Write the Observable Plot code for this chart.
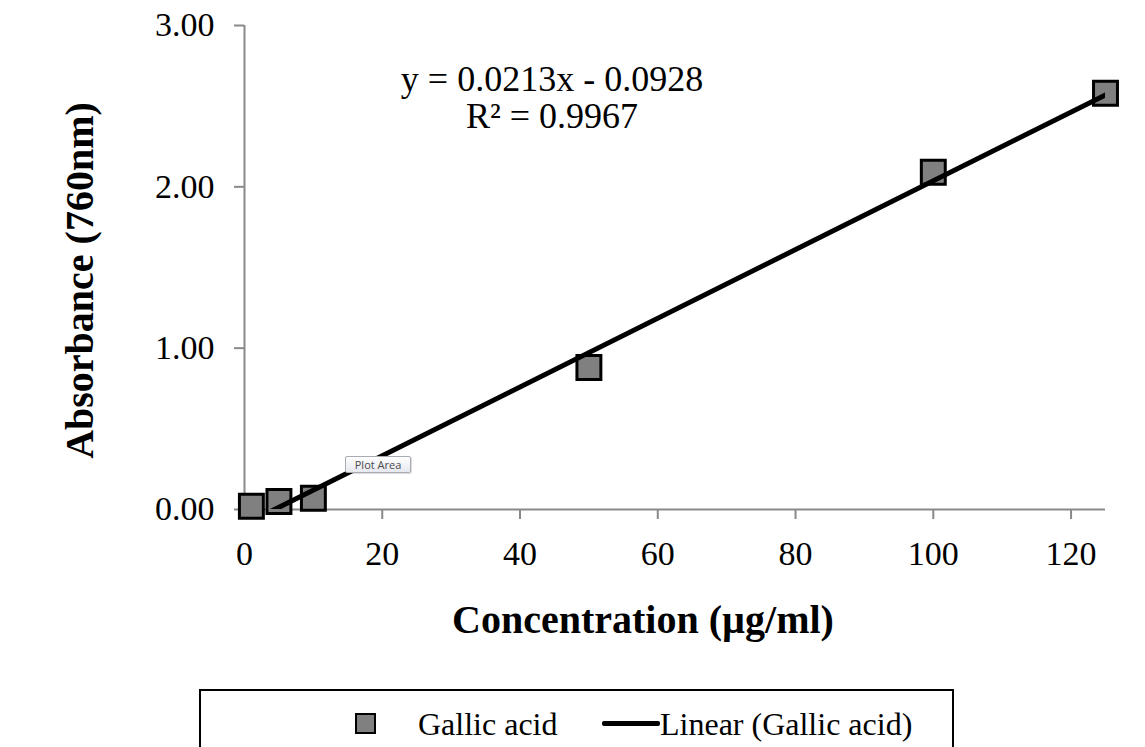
<!DOCTYPE html>
<html><head><meta charset="utf-8">
<script src="https://cdn.jsdelivr.net/npm/d3@7"></script>
<script src="https://cdn.jsdelivr.net/npm/@observablehq/plot@0.6"></script>
<style>
body{margin:0;background:#fff;width:1145px;height:747px;overflow:hidden;position:relative;font-family:"Liberation Serif","Times New Roman",serif}
#chart svg{display:block}
#legend{position:absolute;left:199px;top:689px;width:751px;height:80px;border:2px solid #000;box-sizing:content-box}
#legend .sw{position:absolute;left:154px;top:22px;width:17px;height:17px;background:#808080;border:2px solid #000}
#legend .t1{position:absolute;left:217px;top:13px;font-size:32px;line-height:40px;color:#000}
#legend .ln{position:absolute;left:401px;top:30px;width:58px;height:5px;background:#000;border-radius:2px}
#legend .t2{position:absolute;left:459px;top:13px;font-size:32px;line-height:40px;color:#000}
#tip{position:absolute;left:345px;top:456px;width:64px;height:15px;border:1px solid #a9abb3;border-radius:2px;background:linear-gradient(#ffffff,#e6e8ef);font:11px "Open Sans",sans-serif;color:#4a4a4a;text-align:center;line-height:15px;box-shadow:1px 1px 1px rgba(0,0,0,.15)}
</style></head><body>
<div id="chart"></div>
<div id="legend"><div class="sw"></div><div class="t1">Gallic acid</div><div class="ln"></div><div class="t2">Linear (Gallic acid)</div></div>
<div id="tip">Plot Area</div>
<script>
const concentration = [1, 5, 10, 50, 100, 125];
const absorbance = [0.02, 0.05, 0.07, 0.88, 2.09, 2.58];
const slope = 0.0213;
const intercept = -0.0928;
const rSquared = "0.9967";
const xTicks = [0, 20, 40, 60, 80, 100, 120];
const yTicks = [0, 1, 2, 3];
const xDomain = [0, 125];
const yDomain = [0, 3];
const xTitle = "Concentration (µg/ml)";
const yTitle = "Absorbance (760nm)";
const equation = `y = ${slope}x - ${Math.abs(intercept)}\nR² = ${rSquared}`;

const points = concentration.map((c, i) => ({x: c, y: absorbance[i]}));
const trend = [concentration[0], concentration[concentration.length - 1]].map(x => ({x, y: slope * x + intercept}));

const axisGray = "#898989";
const serif = "Liberation Serif, Times New Roman, serif";

const chart = Plot.plot({
  width: 1145,
  height: 689,
  marginLeft: 244,
  marginRight: 40,
  marginTop: 25,
  marginBottom: 180,
  style: {fontFamily: serif, background: "#fff", color: "#000"},
  x: {domain: xDomain},
  y: {domain: yDomain},
  marks: [
    Plot.ruleY([0], {stroke: axisGray, strokeWidth: 2}),
    Plot.ruleX([0], {stroke: axisGray, strokeWidth: 2}),
    Plot.axisX({ticks: xTicks, tickSize: 10, tickPadding: 21, stroke: axisGray, strokeWidth: 2, fill: "#000", fontSize: 34, label: null}),
    Plot.axisY({ticks: yTicks, tickSize: 10, tickPadding: 20, tickFormat: d3.format(".2f"), stroke: axisGray, strokeWidth: 2, fill: "#000", fontSize: 34, label: null}),
    Plot.dot(points, {x: "x", y: "y", symbol: "square", r: 13.5, fill: "#808080", stroke: "#000", strokeWidth: 3}),
    Plot.line(trend, {x: "x", y: "y", stroke: "#000", strokeWidth: 5, clip: true}),
    Plot.text([equation], {frameAnchor: "top", dx: -123, dy: 39, lineAnchor: "top", lineHeight: 1.03, fontSize: 36, fill: "#000"}),
    Plot.text([xTitle], {frameAnchor: "bottom", dx: -32, dy: 123, fontSize: 40, fontWeight: "bold", fill: "#000"}),
    Plot.text([yTitle], {frameAnchor: "left", textAnchor: "middle", dx: -164, dy: 13, rotate: -90, fontSize: 40, fontWeight: "bold", fill: "#000"})
  ]
});
document.getElementById("chart").append(chart);
</script>
</body></html>
